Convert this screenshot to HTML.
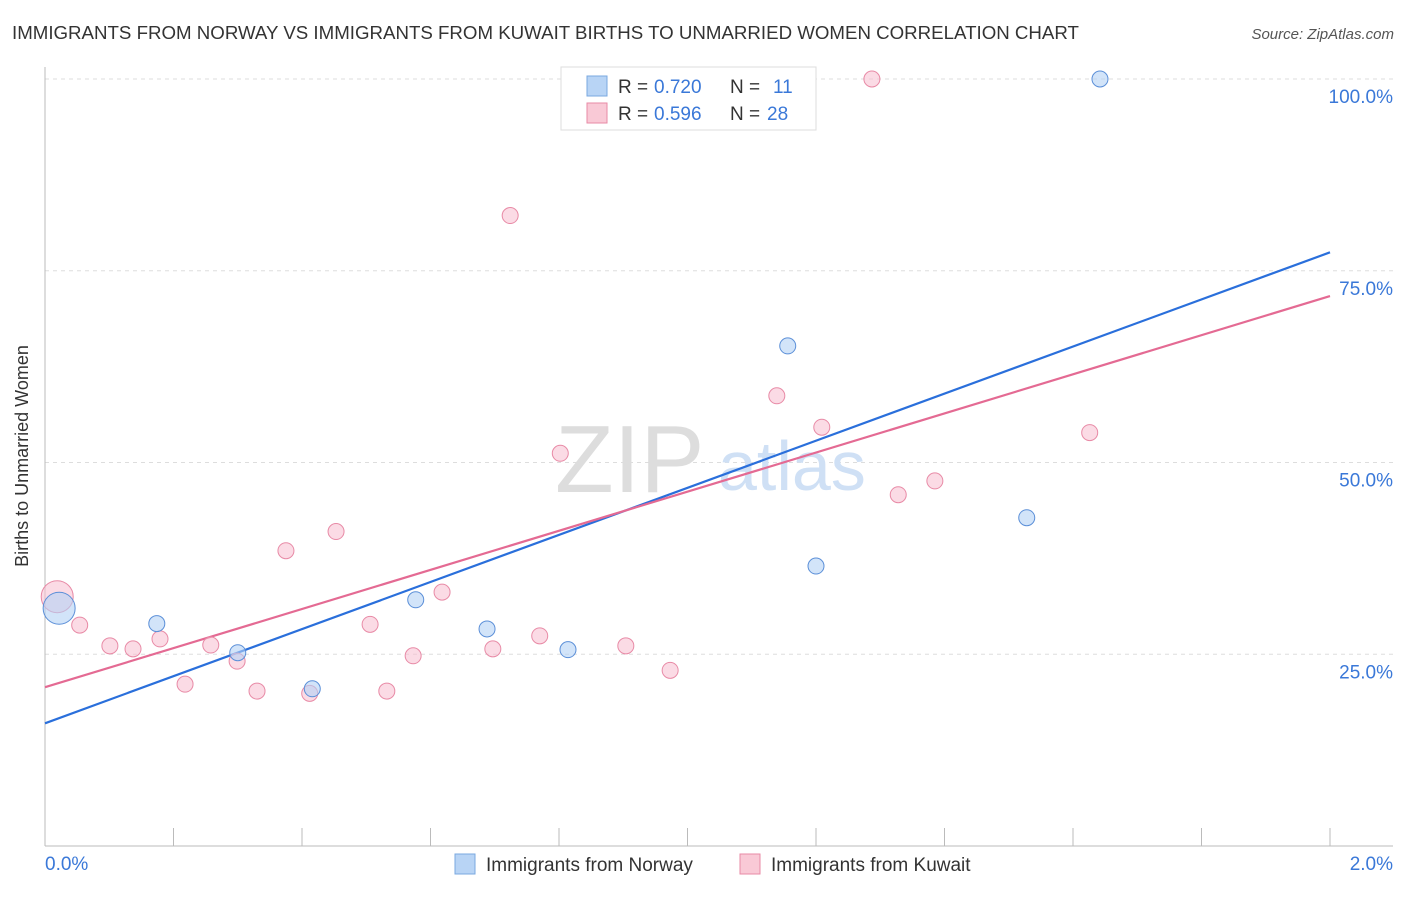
<!DOCTYPE html>
<html><head><meta charset="utf-8">
<style>
body{margin:0;background:#fff;font-family:"Liberation Sans",sans-serif;}
svg text{font-family:"Liberation Sans",sans-serif;}
</style></head>
<body>
<svg id="chart" width="1406" height="892" xmlns="http://www.w3.org/2000/svg">
<text x="12" y="39" font-size="18.7" fill="#333">IMMIGRANTS FROM NORWAY VS IMMIGRANTS FROM KUWAIT BIRTHS TO UNMARRIED WOMEN CORRELATION CHART</text>
<text x="1394" y="39" font-size="15" fill="#555" text-anchor="end" font-style="italic">Source: ZipAtlas.com</text>
<text x="28" y="456" font-size="18" fill="#333" text-anchor="middle" transform="rotate(-90 28 456)">Births to Unmarried Women</text>
<g id="grid"></g>
<g id="axes"></g>
<text x="555" y="492" font-size="96" fill="#ddd" font-family="Liberation Serif">ZIP</text>
<text x="718" y="490" font-size="70" fill="#cfe0f5">atlas</text>
<g id="lines"></g>
<g id="points"></g>
<g>
<rect x="561" y="67" width="255" height="63" fill="#fff" stroke="#ddd"/>
<rect x="587" y="76" width="20" height="20" fill="#b8d4f5" stroke="#7aa8e0"/>
<text x="618" y="93" font-size="19" fill="#333">R = </text><text x="654" y="93" font-size="19" fill="#3a78d8">0.720</text>
<text x="730" y="93" font-size="19" fill="#333">N = </text><text x="773" y="93" font-size="19" fill="#3a78d8">11</text>
<rect x="587" y="103" width="20" height="20" fill="#f9c9d6" stroke="#e88aa6"/>
<text x="618" y="120" font-size="19" fill="#333">R = </text><text x="654" y="120" font-size="19" fill="#3a78d8">0.596</text>
<text x="730" y="120" font-size="19" fill="#333">N = </text><text x="767" y="120" font-size="19" fill="#3a78d8">28</text>
</g>
<g>
<rect x="455" y="854" width="20" height="20" fill="#b8d4f5" stroke="#7aa8e0"/>
<text x="486" y="871" font-size="19" fill="#333">Immigrants from Norway</text>
<rect x="740" y="854" width="20" height="20" fill="#f9c9d6" stroke="#e88aa6"/>
<text x="771" y="871" font-size="19" fill="#333">Immigrants from Kuwait</text>
</g>
</svg>
<script>
const norwayX=[0.022,0.174,0.300,0.416,0.577,0.688,0.814,1.156,1.200,1.528,1.642];
const norwayY=[31.0,29.0,25.2,20.5,32.1,28.3,25.6,65.2,36.5,42.8,100];
const kuwaitX=[0.019,0.054,0.101,0.137,0.179,0.218,0.258,0.299,0.330,0.375,0.412,0.453,0.506,0.532,0.573,0.618,0.697,0.724,0.770,0.802,0.904,0.973,1.139,1.209,1.287,1.328,1.385,1.626];
const kuwaitY=[32.5,28.8,26.1,25.7,27.0,21.1,26.2,24.1,20.2,38.5,19.9,41.0,28.9,20.2,24.8,33.1,25.7,82.2,27.4,51.2,26.1,22.9,58.7,54.6,100,45.8,47.6,53.9];
const norwayTrend=[16.0,77.4];
const kuwaitTrend=[20.7,71.7];
const yTicks=[25,50,75,100];
const yTickLabels=["25.0%","50.0%","75.0%","100.0%"];
const xTickLabels=["0.0%","2.0%"];
const X=v=>45+v/2*1285, Y=v=>846-v/100*767;
const NS="http://www.w3.org/2000/svg";
function mk(p,t,a){const e=document.createElementNS(NS,t);for(const k in a)e.setAttribute(k,a[k]);p.appendChild(e);return e;}
const grid=document.getElementById('grid'),axes=document.getElementById('axes');
yTicks.forEach((t,i)=>{
 const l=mk(grid,'line',{x1:45,x2:1393,y1:Y(t),y2:Y(t),stroke:'#ddd','stroke-dasharray':'4,4'});
 
 
 const tx=mk(axes,'text',{x:1393,y:Y(t)+24,'font-size':19,fill:'#3a78d8','text-anchor':'end'});
 tx.textContent=yTickLabels[i];
 
 
});
mk(axes,'line',{x1:45,x2:45,y1:67,y2:846,stroke:'#bbb'});
mk(axes,'line',{x1:45,x2:1393,y1:846,y2:846,stroke:'#bbb'});
for(let i=0;i<=10;i++){const x=X(i*0.2);const t=mk(axes,'line',{x1:x,x2:x,y1:828,y2:846,stroke:'#bbb'});}
const x0=mk(axes,'text',{x:45,y:870,'font-size':19,fill:'#3a78d8'});x0.textContent=xTickLabels[0];


const x1=mk(axes,'text',{x:1393,y:870,'font-size':19,fill:'#3a78d8','text-anchor':'end'});x1.textContent=xTickLabels[1];


const lines=document.getElementById('lines');
const bl=mk(lines,'line',{x1:X(0),y1:Y(norwayTrend[0]),x2:X(2),y2:Y(norwayTrend[1]),stroke:'#2a6fdb','stroke-width':2.2});


const pl=mk(lines,'line',{x1:X(0),y1:Y(kuwaitTrend[0]),x2:X(2),y2:Y(kuwaitTrend[1]),stroke:'#e46a93','stroke-width':2.2});


const pts=document.getElementById('points');
kuwaitX.forEach((v,i)=>{const c=mk(pts,'circle',{cx:X(v),cy:Y(kuwaitY[i]),r:i==0?16:8,fill:'rgba(248,190,208,0.55)',stroke:'#e88aa6','stroke-width':1});
 
 });
norwayX.forEach((v,i)=>{const c=mk(pts,'circle',{cx:X(v),cy:Y(norwayY[i]),r:i==0?16:8,fill:'rgba(180,210,245,0.6)',stroke:'#5b8fd8','stroke-width':1});
 
 });
</script>
</body></html>
